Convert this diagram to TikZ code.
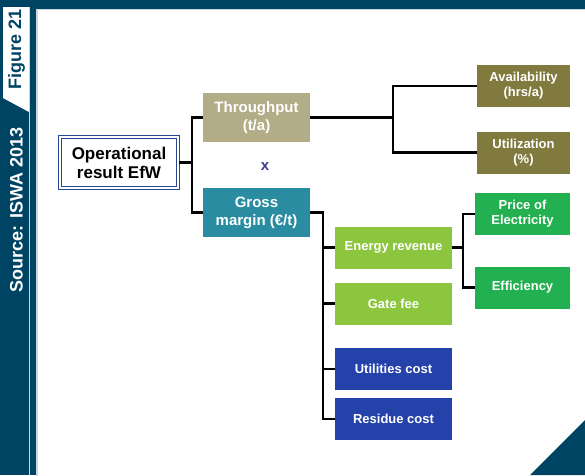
\documentclass[tikz,border=0pt]{standalone}
\usepackage{fontspec}
\setmainfont{Liberation Sans}
\usepackage{tikz}
\usetikzlibrary{positioning}
\definecolor{iswanavy}{RGB}{0, 68, 100}
\definecolor{panelline}{RGB}{205, 214, 222}
\definecolor{opblue}{RGB}{40, 70, 150}
\definecolor{timesblue}{RGB}{60, 60, 140}
\definecolor{thrukhaki}{RGB}{178, 172, 135}
\definecolor{availolive}{RGB}{128, 122, 62}
\definecolor{grossteal}{RGB}{42, 140, 160}
\definecolor{revgreen}{RGB}{140, 198, 62}
\definecolor{elecgreen}{RGB}{34, 176, 80}
\definecolor{costblue}{RGB}{36, 66, 170}
\tikzstyle{opbox} = [rectangle, draw=opblue, double=white, double distance=1.2pt, line width=1.5pt, fill=white, minimum width=118pt, minimum height=51pt, align=center, text=black, font=\fontsize{17}{19}\selectfont\bfseries]
\tikzstyle{driver} = [rectangle, minimum width=107pt, minimum height=49pt, align=center, text=white, inner sep=2pt, font=\fontsize{15}{18}\selectfont\bfseries]
\tikzstyle{leaf} = [rectangle, minimum height=42pt, align=center, text=white, inner sep=2pt, font=\fontsize{13}{15}\selectfont\bfseries]
\tikzstyle{link} = [line width=2.4pt, black]

\begin{document}
\begin{tikzpicture}[x=1pt, y=-1pt]
    \useasboundingbox (0,0) rectangle (585,475);
    % Frame
    \fill[iswanavy] (0,0) rectangle (585,475);
    \filldraw[fill=white, draw=panelline, line width=1.5pt] (37,9.5) rectangle (590,480);
    \fill[white] (3,7) -- (29,7) -- (29,112) -- (3,98) -- cycle;
    \draw[panelline, line width=1pt] (29.5,7) -- (29.5,475);
    \fill[iswanavy] (530,475) -- (585,420) -- (585,475) -- cycle;
    \node[rotate=90, text=iswanavy, font=\fontsize{18}{18}\selectfont\bfseries] (figtag) at (16.5,49) {Figure 21};
    \node[rotate=90, text=white, font=\fontsize{18}{18}\selectfont\bfseries] (source) at (16.5,210) {Source: ISWA 2013};

    % Result
    \node[opbox] (oper) at (119,162.5) {Operational\\result EfW};

    % Drivers
    \node[driver, fill=thrukhaki] (thru) at (256.5,117.5) {Throughput\\(t/a)};
    \node[text=timesblue, font=\fontsize{15}{15}\selectfont\bfseries] (times) at (265,167) {x};
    \node[driver, fill=grossteal] (gross) at (256.5,212.5) {Gross\\margin (€/t)};

    % Throughput terms
    \node[leaf, fill=availolive, minimum width=93pt] (avail) at (523.5,86) {Availability\\(hrs/a)};
    \node[leaf, fill=availolive, minimum width=93pt] (util) at (523.5,152.5) {Utilization\\(\%)};

    % Margin terms
    \node[leaf, fill=revgreen, minimum width=117pt] (energy) at (393.5,247.5) {Energy revenue};
    \node[leaf, fill=revgreen, minimum width=117pt] (gate) at (393.5,303.5) {Gate fee};
    \node[leaf, fill=costblue, minimum width=117pt] (utilc) at (393.5,369) {Utilities cost};
    \node[leaf, fill=costblue, minimum width=117pt] (resid) at (393.5,419) {Residue cost};

    % Revenue terms
    \node[leaf, fill=elecgreen, minimum width=95pt] (price) at (522.5,214) {Price of\\Electricity};
    \node[leaf, fill=elecgreen, minimum width=95pt] (effic) at (522.5,287.5) {Efficiency};

    % Links
    \coordinate (jop) at (192,162.5);
    \coordinate (jthru) at (393,117.5);
    \coordinate (jgross) at (323,212.5);
    \coordinate (jenergy) at (463,247.5);
    \draw[link] (oper.east) -- (jop) |- (thru.west);
    \draw[link] (jop) |- (gross.west);
    \draw[link] (thru.east) -- (jthru) |- (avail.west);
    \draw[link] (jthru) |- (util.west);
    \draw[link] (gross.east) -- (jgross) |- (resid.west);
    \draw[link] (jgross) |- (energy.west);
    \draw[link] (jgross) |- (gate.west);
    \draw[link] (jgross) |- (utilc.west);
    \draw[link] (energy.east) -- (jenergy) |- (price.west);
    \draw[link] (jenergy) |- (effic.west);
\end{tikzpicture}
\end{document}
